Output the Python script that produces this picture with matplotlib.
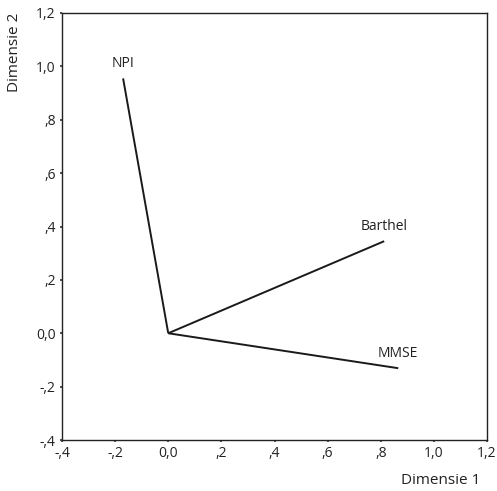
import matplotlib
matplotlib.use("Agg")
from matplotlib import pyplot as plt

# vector end points (dimension 1, dimension 2)
names = ['NPI', 'Barthel', 'MMSE']
dim1 = [-0.17, 0.813, 0.866]
dim2 = [0.955, 0.345, -0.131]

ticks = [-0.4, -0.2, 0.0, 0.2, 0.4, 0.6, 0.8, 1.0, 1.2]
tick_labels = ['-,4', '-,2', '0,0', ',2', ',4', ',6', ',8', '1,0', '1,2']

plt.rcParams['font.family'] = ['Open Sans', 'DejaVu Sans']

fig = plt.figure(figsize=(4.97, 4.91), dpi=100)
ax = fig.add_axes([62 / 497, 1 - 440 / 491, 425 / 497, 427 / 491])

for name, x, y in zip(names, dim1, dim2):
    ax.plot([0, x], [0, y], color='#1a1a1a', linewidth=1.4, solid_capstyle='butt')
    ax.annotate(name, (x, y), xytext=(0, 5), textcoords='offset points',
                ha='center', va='bottom', fontsize=10, color='#222222')

ax.set_xlim(-0.4, 1.2)
ax.set_ylim(-0.4, 1.2)
ax.set_xticks(ticks)
ax.set_xticklabels(tick_labels)
ax.set_yticks(ticks)
ax.set_yticklabels(tick_labels)
ax.tick_params(direction='out', length=1.5, width=1.5, labelsize=10,
               colors='#555555', labelcolor='#222222', pad=3)
for s in ax.spines.values():
    s.set_linewidth(1.0)
    s.set_color('#222222')

# axis titles placed like the original (outside the axes corners)
fig.text(441 / 497, 1 - 481 / 491, 'Dimensie 1', ha='center', va='center',
         fontsize=11, color='#222222')
fig.text(15 / 497, 1 - 52 / 491, 'Dimensie 2', ha='center', va='center',
         rotation=90, fontsize=11, color='#222222')

fig.savefig('out.png', dpi=100)
